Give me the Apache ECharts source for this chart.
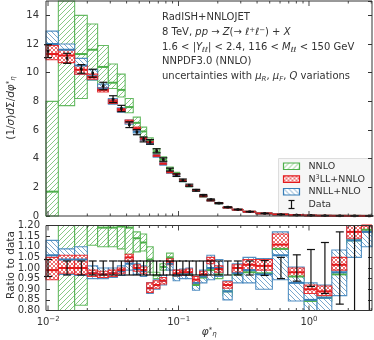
<!DOCTYPE html>
<html>
<head>
<meta charset="utf-8">
<script src="https://cdn.jsdelivr.net/npm/echarts@6/dist/echarts.min.js"></script>
<style>
html, body { margin: 0; padding: 0; background: #fff; }
#main { width: 374px; height: 340px; }
</style>
</head>
<body>
<div id="main"></div>
<script>
// phi*_eta bin edges
var binEdges = [0.008, 0.012, 0.016, 0.020, 0.024, 0.029, 0.034, 0.039, 0.045, 0.051, 0.057, 0.064, 0.072, 0.081, 0.091, 0.102,
  0.114, 0.128, 0.145, 0.165, 0.189, 0.219, 0.258, 0.312, 0.391, 0.524, 0.695, 0.918, 1.153, 1.496, 1.947, 2.522, 3.277];

// upper panel: (1/sigma) dSigma/dphi*
var dataVal = [11.5, 11.0, 10.26, 9.96, 9.07, 8.15, 7.5, 6.37, 5.85, 5.34, 5.17, 4.55, 3.94, 3.24, 2.85, 2.5,
  2.15, 1.8, 1.45, 1.15, 0.9, 0.62, 0.45, 0.3, 0.18, 0.105, 0.06, 0.04, 0.025, 0.015, 0.01, 0.006];
var dataErr = [0.45, 0.35, 0.3, 0.28, 0.26, 0.24, 0.22, 0.2, 0.18, 0.17, 0.16, 0.14, 0.12, 0.1, 0.09, 0.08,
  0.07, 0.06, 0.05, 0.04, 0.03, 0.02, 0.015, 0.01, 0.007, 0.005, 0.004, 0.004, 0.003, 0.003, 0.003, 0.002];

var nnloMid = [1.7, 17, 11.3, 11.6, 10.4, 9.3, 8.8, 7.6, 6.5, 5.9, 5.3, 4.5, 3.95, 3.3, 2.98, 2.44,
  2.08, 1.77, 1.37, 1.08, 0.89, 0.585, 0.437, 0.294, 0.176, 0.109, 0.058, 0.034, 0.0215, 0.0146, 0.0114, 0.0071];
var nnloLo = [-2, 7.7, 8.2, 9.5, 9.0, 8.9, 8.3, 7.2, 6.0, 5.5, 5.06, 4.36, 3.78, 3.2, 2.9, 2.4,
  2.04, 1.74, 1.34, 1.06, 0.87, 0.575, 0.43, 0.288, 0.171, 0.107, 0.057, 0.0335, 0.021, 0.0142, 0.0112, 0.007];
var nnloHi = [8.0, 20, 14.0, 13.4, 11.9, 10.6, 9.9, 8.2, 6.9, 6.2, 5.45, 4.7, 4.13, 3.42, 3.05, 2.5,
  2.12, 1.8, 1.4, 1.1, 0.9, 0.6, 0.445, 0.3, 0.18, 0.111, 0.059, 0.0345, 0.022, 0.015, 0.0116, 0.0072];

var n3llMid = [11.3, 11.2, 10.2, 9.7, 8.8, 8.0, 7.4, 6.6, 6.1, 5.4, 5.15, 4.2, 3.65, 3.06, 2.92, 2.46,
  2.1, 1.79, 1.38, 1.09, 0.9, 0.59, 0.44, 0.3, 0.181, 0.111, 0.059, 0.036, 0.0222, 0.0152, 0.0117, 0.0072];
var n3llLo = [10.9, 10.7, 9.9, 9.55, 8.65, 7.85, 7.3, 6.5, 6.0, 5.3, 5.1, 4.15, 3.6, 3.02, 2.88, 2.42,
  2.07, 1.77, 1.36, 1.07, 0.89, 0.58, 0.435, 0.294, 0.177, 0.109, 0.058, 0.035, 0.0217, 0.0149, 0.0114, 0.007];
var n3llHi = [11.9, 11.6, 10.5, 9.9, 8.95, 8.1, 7.5, 6.7, 6.2, 5.45, 5.25, 4.25, 3.7, 3.1, 2.96, 2.5,
  2.13, 1.82, 1.41, 1.1, 0.91, 0.6, 0.45, 0.303, 0.184, 0.115, 0.06, 0.0366, 0.0227, 0.0156, 0.012, 0.0074];

var nnllMid = [12.0, 11.6, 10.5, 9.75, 8.9, 8.0, 7.4, 6.55, 5.9, 5.35, 5.1, 4.2, 3.65, 3.05, 2.88, 2.44,
  2.09, 1.77, 1.38, 1.08, 0.89, 0.59, 0.44, 0.295, 0.175, 0.106, 0.056, 0.034, 0.022, 0.0147, 0.011, 0.007];
var nnllLo = [11.0, 10.8, 9.9, 9.5, 8.7, 7.8, 7.25, 6.4, 5.8, 5.25, 5.0, 4.1, 3.55, 2.98, 2.82, 2.4,
  2.05, 1.74, 1.35, 1.06, 0.87, 0.57, 0.43, 0.285, 0.165, 0.095, 0.05, 0.032, 0.02, 0.013, 0.0105, 0.0066];
var nnllHi = [12.9, 12.0, 11.0, 10.2, 9.2, 8.2, 7.55, 6.7, 6.05, 5.45, 5.2, 4.3, 3.75, 3.12, 2.94, 2.48,
  2.12, 1.8, 1.41, 1.11, 0.91, 0.6, 0.45, 0.305, 0.185, 0.117, 0.06, 0.037, 0.023, 0.016, 0.012, 0.0075];

// lower panel: ratio to data
var ratioDataErr = [0.04, 0.033, 0.033, 0.033, 0.033, 0.033, 0.033, 0.033, 0.033, 0.033, 0.033, 0.033, 0.033, 0.033, 0.033, 0.033,
  0.033, 0.033, 0.033, 0.033, 0.033, 0.033, 0.033, 0.033, 0.035, 0.05, 0.062, 0.087, 0.12, 0.17, 0.3, 0.35];

var rNnloMid = [0.0, 1.3, 1.3, 1.3, 1.19, 1.19, 1.195, 1.19, 1.14, 1.12, 1.04, 0.965, 1.005, 1.05, 0.965, 0.975,
  0.97, 0.92, 0.955, 0.99, 0.97, 0.89, 0.97, 0.98, 0.975, 1.09, 0.96, 0.845, 0.86, 0.97, 1.13, 1.18];
var rNnloLo = [-1, 0.5, 0.825, 1.107, 1.10, 1.10, 1.09, 1.065, 1.076, 1.08, 0.98, 0.95, 0.99, 1.03, 0.95, 0.96,
  0.955, 0.905, 0.94, 0.97, 0.95, 0.87, 0.95, 0.96, 0.955, 1.07, 0.94, 0.83, 0.845, 0.95, 1.11, 1.16];
var rNnloHi = [0.5, 1.6, 1.6, 1.4, 1.25, 1.25, 1.25, 1.22, 1.17, 1.16, 1.10, 0.98, 1.02, 1.07, 0.98, 0.99,
  0.985, 0.94, 0.97, 1.01, 0.985, 0.91, 0.99, 1.0, 0.995, 1.11, 0.975, 0.86, 0.875, 0.99, 1.15, 1.2];

var rN3llMid = [0.99, 1.0, 1.0, 0.975, 0.97, 0.975, 0.99, 1.05, 1.0, 0.99, 0.905, 0.92, 0.94, 1.03, 0.975, 0.98,
  0.98, 0.945, 0.97, 1.035, 0.995, 0.92, 1.0, 1.015, 1.01, 1.11, 0.98, 0.9, 0.89, 1.015, 1.17, 1.2];
var rN3llLo = [0.945, 0.975, 0.97, 0.96, 0.955, 0.96, 0.975, 1.03, 0.985, 0.975, 0.885, 0.905, 0.925, 1.015, 0.96, 0.965,
  0.965, 0.925, 0.955, 1.02, 0.98, 0.905, 0.98, 0.99, 0.99, 1.09, 0.96, 0.88, 0.87, 0.99, 1.14, 1.17];
var rN3llHi = [1.05, 1.06, 1.06, 0.99, 0.985, 0.99, 1.0, 1.065, 1.015, 1.005, 0.93, 0.94, 0.955, 1.045, 0.99, 0.99,
  0.995, 0.96, 0.985, 1.05, 1.01, 0.935, 1.015, 1.04, 1.04, 1.16, 1.0, 0.92, 0.915, 1.05, 1.2, 1.25];

var rNnllMid = [1.06, 1.04, 1.04, 0.975, 0.97, 0.975, 0.985, 1.02, 0.995, 0.985, 0.905, 0.92, 0.94, 1.02, 0.965, 0.97,
  0.975, 0.93, 0.96, 1.0, 1.0, 0.89, 0.975, 0.99, 0.97, 1.06, 0.93, 0.85, 0.86, 0.98, 1.13, 1.17];
var rNnllLo = [0.95, 0.97, 0.965, 0.95, 0.95, 0.955, 0.965, 0.99, 0.97, 0.96, 0.88, 0.9, 0.92, 0.99, 0.94, 0.95,
  0.95, 0.895, 0.93, 0.945, 0.96, 0.85, 0.93, 0.93, 0.9, 0.945, 0.845, 0.8, 0.8, 0.87, 1.05, 1.1];
var rNnllHi = [1.13, 1.09, 1.1, 1.01, 1.0, 1.0, 1.01, 1.05, 1.02, 1.01, 0.93, 0.945, 0.965, 1.045, 0.99, 0.995,
  1.0, 0.96, 0.99, 1.06, 1.04, 0.94, 1.02, 1.05, 1.045, 1.17, 1.005, 0.93, 0.92, 1.085, 1.2, 1.25];

// axis ticks
var xMajorTicks = [0.01, 0.1, 1];
var xMajorExp = ['\u22122', '\u22121', '0'];
var xMinorTicks = [0.02, 0.03, 0.04, 0.05, 0.06, 0.07, 0.08, 0.09, 0.2, 0.3, 0.4, 0.5, 0.6, 0.7, 0.8, 0.9, 2, 3];

var GREEN = '#4daf4a', RED = '#e41a1c', BLUE = '#377eb8', INK = '#333';

function hatch(color, kind, s) {
  var c = document.createElement('canvas');
  c.width = s; c.height = s;
  var g = c.getContext('2d');
  g.fillStyle = '#fff';
  g.fillRect(0, 0, s, s);
  g.strokeStyle = color;
  g.lineWidth = 0.9;
  g.beginPath();
  if (kind.indexOf('/') >= 0) {
    g.moveTo(-1, s + 1); g.lineTo(s + 1, -1);
    g.moveTo(-1, 1); g.lineTo(1, -1);
    g.moveTo(s - 1, s + 1); g.lineTo(s + 1, s - 1);
  }
  if (kind.indexOf('\\') >= 0) {
    g.moveTo(-1, -1); g.lineTo(s + 1, s + 1);
    g.moveTo(-1, s - 1); g.lineTo(1, s + 1);
    g.moveTo(s - 1, -1); g.lineTo(s + 1, 1);
  }
  g.stroke();
  return { image: c, repeat: 'repeat' };
}

var greenFill = hatch('rgba(77,175,74,0.75)', '/', 5);
var redFill = hatch('rgba(228,26,28,0.7)', '/\\', 4);
var blueFill = hatch('rgba(55,126,184,0.75)', '\\', 5);

function binRows(lo, hi, mid) {
  var rows = [];
  for (var i = 0; i < binEdges.length - 1; i++) {
    rows.push([binEdges[i], binEdges[i + 1], lo[i], hi[i], mid[i]]);
  }
  return rows;
}

function dataRows(val, err) {
  var rows = [];
  for (var i = 0; i < binEdges.length - 1; i++) {
    rows.push([(binEdges[i] + binEdges[i + 1]) / 2, val === null ? 1 : val[i], err[i]]);
  }
  return rows;
}

function csRect(cs) {
  return { x: cs.x, y: cs.y, width: cs.width, height: cs.height };
}

// hatched, opaque box for each bin
function boxItem(color, fill) {
  return function (params, api) {
    var cs = params.coordSys;
    var a = api.coord([api.value(0), api.value(3)]);
    var b = api.coord([api.value(1), api.value(2)]);
    var r = echarts.graphic.clipRectByRect(
      { x: a[0], y: a[1], width: b[0] - a[0], height: b[1] - a[1] }, csRect(cs));
    if (!r) return null;
    return { type: 'rect', shape: r, style: { fill: fill, stroke: color, lineWidth: 1.1, strokeOpacity: 0.85 } };
  };
}

// central value of each bin
function midItem(color) {
  return function (params, api) {
    var cs = params.coordSys;
    var a = api.coord([api.value(0), api.value(4)]);
    var b = api.coord([api.value(1), api.value(4)]);
    if (a[1] < cs.y || a[1] > cs.y + cs.height) return null;
    var x0 = Math.max(a[0], cs.x), x1 = Math.min(b[0], cs.x + cs.width);
    return { type: 'line', shape: { x1: x0, y1: a[1], x2: x1, y2: a[1] }, style: { stroke: color, lineWidth: 2 } };
  };
}

function dataItem(showPoint) {
  return function (params, api) {
    var cs = params.coordSys;
    var v = api.value(1), e = api.value(2);
    var t = api.coord([api.value(0), v + e]);
    var b = api.coord([api.value(0), v - e]);
    var c = api.coord([api.value(0), v]);
    var yTop = cs.y, yBot = cs.y + cs.height;
    var st = { stroke: '#111', lineWidth: 1.2 };
    var children = [];
    children.push({ type: 'line', shape: { x1: c[0], y1: Math.max(t[1], yTop), x2: c[0], y2: Math.min(b[1], yBot) }, style: st });
    if (t[1] >= yTop) {
      children.push({ type: 'line', shape: { x1: c[0] - 4, y1: t[1], x2: c[0] + 4, y2: t[1] }, style: st });
    }
    if (b[1] <= yBot) {
      children.push({ type: 'line', shape: { x1: c[0] - 4, y1: b[1], x2: c[0] + 4, y2: b[1] }, style: st });
    }
    if (showPoint) {
      children.push({ type: 'rect', shape: { x: c[0] - 1.3, y: c[1] - 1.3, width: 2.6, height: 2.6 }, style: { fill: '#111' } });
    }
    return { type: 'group', children: children };
  };
}

function tickItem(params, api) {
  var cs = params.coordSys;
  var x = api.coord([api.value(0), api.value(1)])[0];
  var len = api.value(2) ? 5 : 2.5;
  var st = { stroke: INK, lineWidth: 0.9 };
  return {
    type: 'group',
    children: [
      { type: 'line', shape: { x1: x, y1: cs.y, x2: x, y2: cs.y + len }, style: st },
      { type: 'line', shape: { x1: x, y1: cs.y + cs.height, x2: x, y2: cs.y + cs.height - len }, style: st }
    ]
  };
}

function tickLabelItem(params, api) {
  var p = api.coord([api.value(0), api.value(1)]);
  var exp = xMajorExp[params.dataIndex];
  var wBase = 12.7, wExp = exp.length > 1 ? 10 : 4.5;
  var x0 = p[0] - (wBase + wExp) / 2;
  return {
    type: 'group',
    children: [
      { type: 'text', style: { text: '10', x: x0, y: p[1] + 17, font: '10px "DejaVu Sans"', fill: INK, verticalAlign: 'bottom' } },
      { type: 'text', style: { text: exp, x: x0 + wBase, y: p[1] + 12, font: '7px "DejaVu Sans"', fill: INK, verticalAlign: 'bottom' } }
    ]
  };
}

function tickRows(list, yRef, major) {
  return list.map(function (v) { return [v, yRef, major ? 1 : 0]; });
}

// band series: boxes first, then the central lines on top
function bandSeries(name, panel, color, fill, lo, hi, mid) {
  var ax = panel === 0 ? { x: 0, y: 0 } : { x: 1, y: 2 };
  var rows = binRows(lo, hi, mid);
  return [
    { name: name, type: 'custom', xAxisIndex: ax.x, yAxisIndex: ax.y, silent: true, z: 2, encode: { x: 0, y: 2 },
      renderItem: boxItem(color, fill), data: rows },
    { name: name, type: 'custom', xAxisIndex: ax.x, yAxisIndex: ax.y, silent: true, z: 3, encode: { x: 0, y: 4 },
      renderItem: midItem(color), data: rows }
  ];
}

var xMin = 0.00965, xMax = 3.04;

function xAxisDef(idx) {
  return {
    type: 'log', logBase: 10, gridIndex: idx, min: xMin, max: xMax,
    axisLine: { show: false }, axisTick: { show: false }, axisLabel: { show: false }, splitLine: { show: false }
  };
}

var labelFont = { color: INK, fontSize: 10, fontFamily: 'DejaVu Sans' };

var series = []
  .concat(bandSeries('NNLO', 0, GREEN, greenFill, nnloLo, nnloHi, nnloMid))
  .concat(bandSeries('NNLL+NLO', 0, BLUE, blueFill, nnllLo, nnllHi, nnllMid))
  .concat(bandSeries('N3LL+NNLO', 0, RED, redFill, n3llLo, n3llHi, n3llMid))
  .concat(bandSeries('NNLO', 1, GREEN, greenFill, rNnloLo, rNnloHi, rNnloMid))
  .concat(bandSeries('NNLL+NLO', 1, BLUE, blueFill, rNnllLo, rNnllHi, rNnllMid))
  .concat(bandSeries('N3LL+NNLO', 1, RED, redFill, rN3llLo, rN3llHi, rN3llMid))
  .concat([
    { name: 'Data', type: 'custom', xAxisIndex: 0, yAxisIndex: 0, silent: true, z: 4, encode: { x: 0, y: 1 },
      renderItem: dataItem(true), data: dataRows(dataVal, dataErr) },
    { name: 'Data', type: 'custom', xAxisIndex: 1, yAxisIndex: 2, silent: true, z: 4, encode: { x: 0, y: 1 },
      renderItem: dataItem(false), data: dataRows(null, ratioDataErr) },
    { type: 'custom', xAxisIndex: 0, yAxisIndex: 0, silent: true, z: 5, encode: { x: 0, y: 1 }, renderItem: tickItem,
      data: tickRows(xMajorTicks, 1, true).concat(tickRows(xMinorTicks, 1, false)) },
    { type: 'custom', xAxisIndex: 1, yAxisIndex: 2, silent: true, z: 5, encode: { x: 0, y: 1 }, renderItem: tickItem,
      data: tickRows(xMajorTicks, 1, true).concat(tickRows(xMinorTicks, 1, false)) },
    { type: 'custom', xAxisIndex: 1, yAxisIndex: 2, silent: true, z: 5, encode: { x: 0, y: 1 }, renderItem: tickLabelItem,
      clip: false, data: tickRows(xMajorTicks, 0.8, true) }
  ]);

var option = {
  animation: false,
  grid: [
    { left: 46, top: 1, width: 326, height: 215, show: true, borderColor: INK, borderWidth: 1, backgroundColor: 'transparent', z: 6 },
    { left: 46, top: 225.5, width: 326, height: 85, show: true, borderColor: INK, borderWidth: 1, backgroundColor: 'transparent', z: 6 }
  ],
  xAxis: [xAxisDef(0), xAxisDef(1)],
  yAxis: [
    {
      type: 'value', gridIndex: 0, min: 0, max: 15, interval: 2,
      axisLine: { show: false }, splitLine: { show: false },
      axisTick: { inside: true, length: 4, lineStyle: { color: INK } },
      axisLabel: Object.assign({ margin: 7, showMaxLabel: false, formatter: function (v) { return v > 14 ? '' : String(v); } }, labelFont)
    },
    {
      type: 'value', gridIndex: 0, min: 0, max: 15, interval: 2, position: 'right',
      axisLine: { show: false }, splitLine: { show: false },
      axisTick: { inside: true, length: 4, lineStyle: { color: INK } }, axisLabel: { show: false }
    },
    {
      type: 'value', gridIndex: 1, min: 0.8, max: 1.2, interval: 0.05,
      axisLine: { show: false }, splitLine: { show: false },
      axisTick: { inside: true, length: 4, lineStyle: { color: INK } },
      axisLabel: Object.assign({ margin: 6, formatter: function (v) { return v.toFixed(2); } }, labelFont)
    },
    {
      type: 'value', gridIndex: 1, min: 0.8, max: 1.2, interval: 0.05, position: 'right',
      axisLine: { show: false }, splitLine: { show: false },
      axisTick: { inside: true, length: 4, lineStyle: { color: INK } }, axisLabel: { show: false }
    }
  ],
  series: series,
  graphic: [
    // annotation block
    {
      type: 'text', left: 162, top: 10, silent: true,
      style: {
        text: 'RadISH+NNLOJET\n' +
          '8 TeV, {i|pp} \u2192 {i|Z}(\u2192 {i|\u2113}{sup|+}{i|\u2113}{sup|\u2212}) + {i|X}\n' +
          '1.6 < |{i|Y}{sub|\u2113\u2113}| < 2.4, 116 < {i|M}{sub|\u2113\u2113} < 150 GeV\n' +
          'NNPDF3.0 (NNLO)\n' +
          'uncertainties with {i|\u03bc}{sub|R}, {i|\u03bc}{sub|F}, {i|Q} variations',
        font: '10px "DejaVu Sans"', fill: INK, lineHeight: 14.8,
        rich: {
          i: { fontStyle: 'italic', fontSize: 10, fontFamily: 'DejaVu Sans', lineHeight: 14.8 },
          sup: { fontSize: 7, fontFamily: 'DejaVu Sans', verticalAlign: 'top', lineHeight: 14.8, padding: [2, 0, 0, 0] },
          sub: { fontSize: 7, fontFamily: 'DejaVu Sans', fontStyle: 'italic', verticalAlign: 'bottom', lineHeight: 14.8, padding: [0, 0, 1, 0] }
        }
      }
    },
    // legend
    {
      type: 'group', left: 278, top: 158, silent: true, z: 10,
      children: [
        { type: 'rect', shape: { x: 0, y: 0, width: 93, height: 57 }, style: { fill: 'rgba(245,245,245,0.92)', stroke: '#dddddd', lineWidth: 1 } },
        { type: 'rect', shape: { x: 5, y: 4.5, width: 16, height: 6.5 }, style: { fill: greenFill, stroke: GREEN, lineWidth: 1.2 } },
        { type: 'rect', shape: { x: 5, y: 17.3, width: 16, height: 6.5 }, style: { fill: redFill, stroke: RED, lineWidth: 1.2 } },
        { type: 'rect', shape: { x: 5, y: 30, width: 16, height: 6.5 }, style: { fill: blueFill, stroke: BLUE, lineWidth: 1.2 } },
        { type: 'line', shape: { x1: 13, y1: 42, x2: 13, y2: 50 }, style: { stroke: '#111', lineWidth: 1.2 } },
        { type: 'line', shape: { x1: 10, y1: 42, x2: 16, y2: 42 }, style: { stroke: '#111', lineWidth: 1.2 } },
        { type: 'line', shape: { x1: 10, y1: 50, x2: 16, y2: 50 }, style: { stroke: '#111', lineWidth: 1.2 } },
        { type: 'text', x: 30, y: 7.8, style: { text: 'NNLO', font: '9.5px "DejaVu Sans"', fill: INK, verticalAlign: 'middle' } },
        { type: 'text', x: 30, y: 20.6, style: { text: 'N{sup|3}LL+NNLO', font: '9.5px "DejaVu Sans"', fill: INK, verticalAlign: 'middle',
          rich: { sup: { fontSize: 6.5, fontFamily: 'DejaVu Sans', verticalAlign: 'top' } } } },
        { type: 'text', x: 30, y: 33.3, style: { text: 'NNLL+NLO', font: '9.5px "DejaVu Sans"', fill: INK, verticalAlign: 'middle' } },
        { type: 'text', x: 30, y: 46, style: { text: 'Data', font: '9.5px "DejaVu Sans"', fill: INK, verticalAlign: 'middle' } }
      ]
    },
    // axis titles
    {
      type: 'text', x: 11, y: 108, rotation: Math.PI / 2, silent: true,
      style: {
        text: '(1/{i|\u03c3}){i|d}\u03a3/{i|d\u03c6}{sup|*}{sub|\u03b7}',
        font: '10.5px "DejaVu Sans"', fill: INK, align: 'center', verticalAlign: 'middle',
        rich: {
          i: { fontStyle: 'italic', fontSize: 10.5, fontFamily: 'DejaVu Sans' },
          sup: { fontSize: 7, fontFamily: 'DejaVu Sans', verticalAlign: 'top' },
          sub: { fontSize: 7, fontFamily: 'DejaVu Sans', fontStyle: 'italic', verticalAlign: 'bottom' }
        }
      }
    },
    {
      type: 'text', x: 11, y: 265, rotation: Math.PI / 2, silent: true,
      style: { text: 'Ratio to data', font: '10.5px "DejaVu Sans"', fill: INK, align: 'center', verticalAlign: 'middle' }
    },
    {
      type: 'text', x: 209, y: 332, silent: true,
      style: {
        text: '{i|\u03c6}{sup|*}{sub|\u03b7}', font: '10.5px "DejaVu Sans"', fill: INK, align: 'center', verticalAlign: 'middle',
        rich: {
          i: { fontStyle: 'italic', fontSize: 11, fontFamily: 'DejaVu Sans' },
          sup: { fontSize: 7, fontFamily: 'DejaVu Sans', verticalAlign: 'top' },
          sub: { fontSize: 7, fontFamily: 'DejaVu Sans', fontStyle: 'italic', verticalAlign: 'bottom' }
        }
      }
    }
  ]
};

var myChart = echarts.init(document.getElementById('main'));
myChart.setOption(option);
</script>
</body>
</html>
